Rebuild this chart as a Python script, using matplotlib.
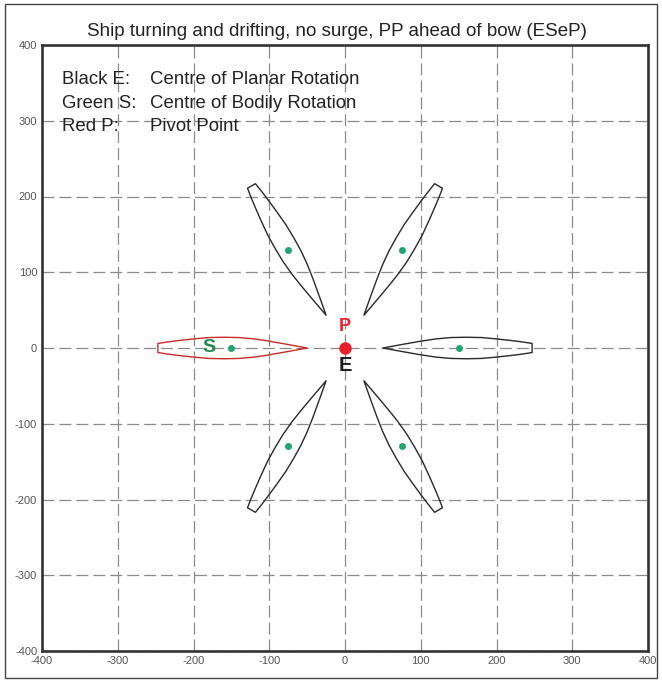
import numpy as np
import matplotlib
matplotlib.use("Agg")
import matplotlib.pyplot as plt
from matplotlib.patches import Polygon, Rectangle

plt.rcParams['lines.scale_dashes'] = False

title = "Ship turning and drifting, no surge, PP ahead of bow (ESeP)"
tick_values = [-400, -300, -200, -100, 0, 100, 200, 300, 400]
tick_labels = ["-400", "-300", "-200", "-100", "0", "100", "200", "300", "400"]

# ship headings (direction of centre from origin), degrees
ship_angles = [0, 60, 120, 180, 240, 300]
ship_is_red = [False, False, False, True, False, False]
ship_centre_dist = 150
bow_dist = 50
# hull half-width profile from bow (s=0) to transom (s=197)
hull_s = [0, 25, 50, 70, 90, 110, 130, 150, 170, 185, 197]
hull_hw = [0, 4.6, 9.0, 12.0, 13.8, 14.2, 13.8, 12.0, 9.8, 7.9, 6.0]

legend_keys = ["Black E:", "Green S:", "Red P:"]
legend_vals = ["Centre of Planar Rotation", "Centre of Bodily Rotation", "Pivot Point"]

fig = plt.figure(figsize=(6.62, 6.81), dpi=100)
ax = fig.add_axes([42/662, 1 - 651/681, 606/662, 606/681])
ax.set_xlim(-400, 400)
ax.set_ylim(-400, 400)
ax.set_xticks(tick_values)
ax.set_yticks(tick_values)
ax.set_xticklabels(tick_labels, fontfamily='Liberation Sans', fontsize=8, color='#555555')
ax.set_yticklabels(tick_labels, fontfamily='Liberation Sans', fontsize=8, color='#555555')
ax.tick_params(axis='x', length=0, pad=3.5)
ax.tick_params(axis='y', length=0, pad=3.5)
ax.grid(True, color='#8a8a8a', linestyle=(0, (8.6, 3.6)), linewidth=0.9)
ax.set_axisbelow(True)
for sp in ax.spines.values():
    sp.set_color('#333333')
    sp.set_linewidth(1.9)

s = np.array(hull_s, dtype=float)
hw = np.array(hull_hw, dtype=float)
for ang, red in zip(ship_angles, ship_is_red):
    t = np.deg2rad(ang)
    d = np.array([np.cos(t), np.sin(t)])
    p = np.array([-np.sin(t), np.cos(t)])
    upper = [(bow_dist + si) * d + hi * p for si, hi in zip(s, hw)]
    lower = [(bow_dist + si) * d - hi * p for si, hi in zip(s[::-1], hw[::-1])]
    pts = np.array(upper + lower)
    col = '#cc2a2a' if red else '#2a2a2a'
    ax.add_patch(Polygon(pts, closed=True, fill=False, ec=col, lw=1.0, joinstyle='round'))
    c = ship_centre_dist * d
    ax.plot(c[0], c[1], 'o', color='#1fa56e', ms=5, mec='none', zorder=5)

ax.plot(0, 0, 'o', color='#e8202a', ms=9, mec='none', zorder=6)
ax.text(0, 28, "P", color='#e8202a', fontsize=13, fontweight='bold',
        ha='center', va='center', fontfamily='Liberation Sans')
ax.text(0, -23, "E", color='#1a1a1a', fontsize=14.5, fontweight='bold',
        ha='center', va='center', fontfamily='Liberation Sans')
ax.text(-180, 0, "S", color='#1e8a4e', fontsize=14, fontweight='bold',
        ha='center', va='center', fontfamily='Liberation Sans')

ys = [354, 323, 293]
for k, v, y in zip(legend_keys, legend_vals, ys):
    ax.text(-374, y, k, fontsize=13.4, color='#222222', va='center', ha='left',
            fontfamily='Liberation Sans')
    ax.text(-257, y, v, fontsize=13.4, color='#222222', va='center', ha='left',
            fontfamily='Liberation Sans')

fig.text(337/662, 1 - 32/681, title, fontsize=13.5, color='#222222', ha='center',
         va='center', fontfamily='Liberation Sans')

fig.patches.append(Rectangle((5/662, 3/681), 652/662, 674/681, transform=fig.transFigure,
                             fill=False, ec='#444444', lw=1.0))

fig.savefig("out.png", dpi=100)
